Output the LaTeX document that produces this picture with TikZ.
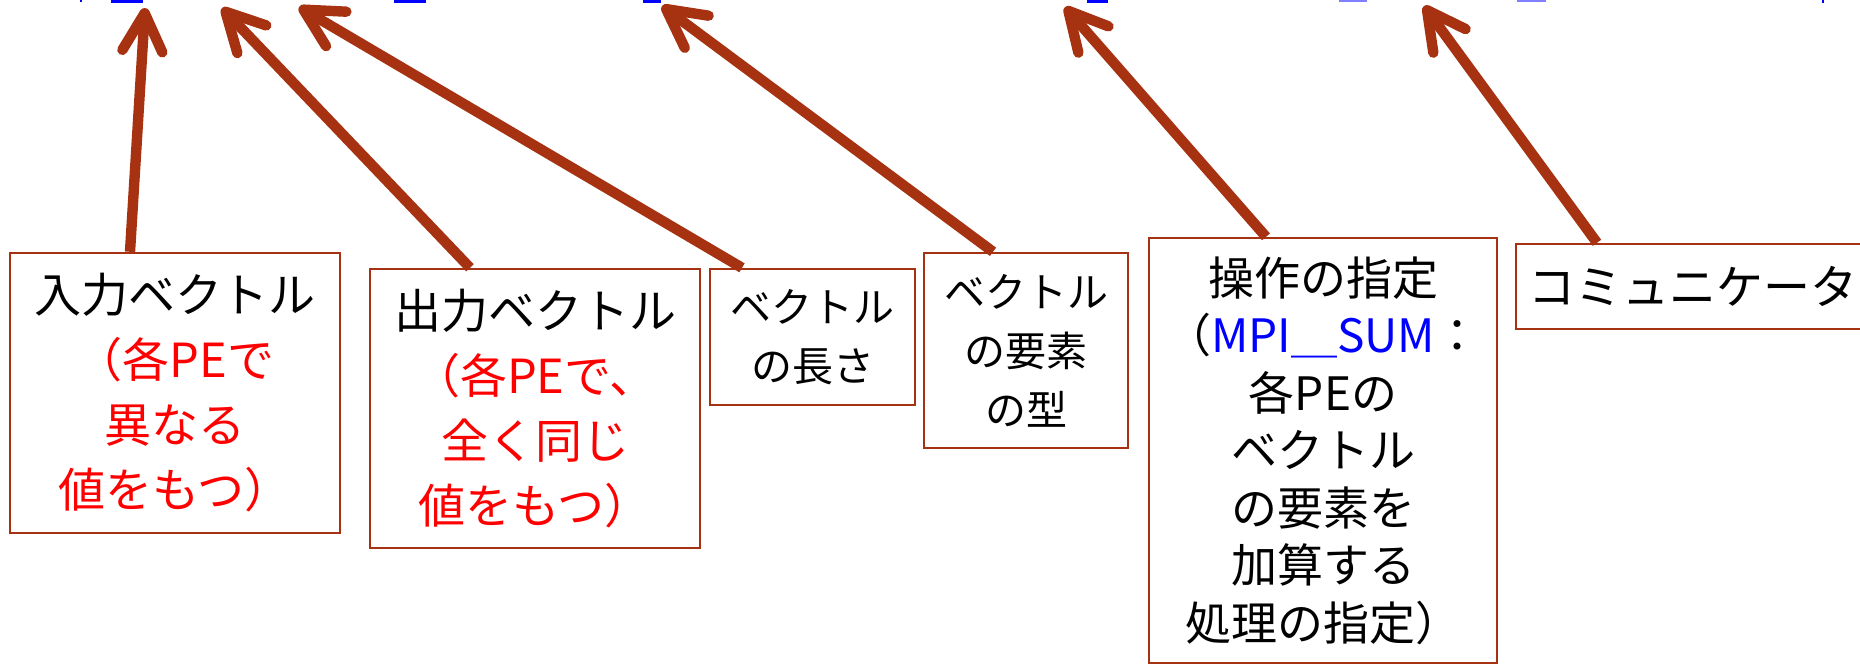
\documentclass[tikz,border=0pt]{standalone}
\usepackage{fontspec}
\setmainfont{Noto Sans CJK JP}
\usetikzlibrary{arrows.meta,calc}
\definecolor{cc}{RGB}{166, 50, 18}
\definecolor{lb}{RGB}{128, 128, 255}
\tikzset{
  label box/.style={draw=cc, line width=1.2pt, align=center, inner sep=0pt},
  big text/.style={font=\fontsize{23.5}{32.5}\selectfont},
  small text/.style={font=\fontsize{20.5}{29.5}\selectfont},
  pointer/.style={draw=cc, line width=5.2pt, -{Straight Barb[length=19pt, width=20pt, round]}}
}

\begin{document}
\begin{tikzpicture}[scale=0.5]
\useasboundingbox (0pt, 0pt) rectangle (1860pt, -665pt);
% cut-off code line at the top
\fill [blue] (80pt, 0pt) rectangle (82pt, -2pt);
\fill [blue] (111pt, 0pt) rectangle (143pt, -2.5pt);
\fill [blue] (394pt, 0pt) rectangle (426pt, -2.5pt);
\fill [blue] (643pt, 0pt) rectangle (661pt, -2.5pt);
\fill [blue] (1087pt, 0pt) rectangle (1108pt, -2.5pt);
\fill [lb] (1339pt, 0pt) rectangle (1367pt, -1.5pt);
\fill [lb] (1517pt, 0pt) rectangle (1546pt, -1.5pt);
\fill [blue] (1822pt, 0pt) rectangle (1824pt, -3pt);
\node (in) [label box, big text, minimum width=165pt, minimum height=140pt] at (175pt, -393pt) {入力ベクトル\\\textcolor{red}{（各PEで}\\\textcolor{red}{異なる}\\\textcolor{red}{値をもつ）}};
\node (out) [label box, big text, minimum width=165pt, minimum height=139.5pt] at (535pt, -408.5pt) {出力ベクトル\\\textcolor{red}{（各PEで、}\\\textcolor{red}{全く同じ}\\\textcolor{red}{値をもつ）}};
\node (len) [label box, small text, minimum width=102.5pt, minimum height=68pt] at (812.5pt, -337pt) {ベクトル\\の長さ};
\node (type) [label box, small text, minimum width=102pt, minimum height=97.5pt] at (1026pt, -350.5pt) {ベクトル\\の要素\\の型};
\node (op) [label box, font=\fontsize{23}{28.75}\selectfont, minimum width=174pt, minimum height=212.5pt] at (1323pt, -450.5pt) {操作の指定\\（\textcolor{blue}{MPI＿SUM}：\\各PEの\\ベクトル\\の要素を\\加算する\\処理の指定）};
\node (comm) [label box, big text, minimum width=177pt, minimum height=42.5pt] at (1693pt, -286.5pt) {コミュニケータ};
\coordinate (h1) at (145pt, -8pt);
\coordinate (h2) at (222pt, -8pt);
\coordinate (h3) at (299pt, -7pt);
\coordinate (h4) at (662pt, -6pt);
\coordinate (h5) at (1065pt, -7pt);
\coordinate (h6) at (1424pt, -6pt);
\draw [pointer] ($(in.north)+(-45pt, 0)$) -- (h1);
\draw [pointer] ($(out.north)+(-65pt, 0)$) -- (h2);
\draw [pointer] ($(len.north)+(-70.5pt, 0)$) -- (h3);
\draw [pointer] ($(type.north)+(-33pt, 0)$) -- (h4);
\draw [pointer] ($(op.north)+(-57pt, 0)$) -- (h5);
\draw [pointer] ($(comm.north)+(-96pt, 0)$) -- (h6);
\end{tikzpicture}
\end{document}
